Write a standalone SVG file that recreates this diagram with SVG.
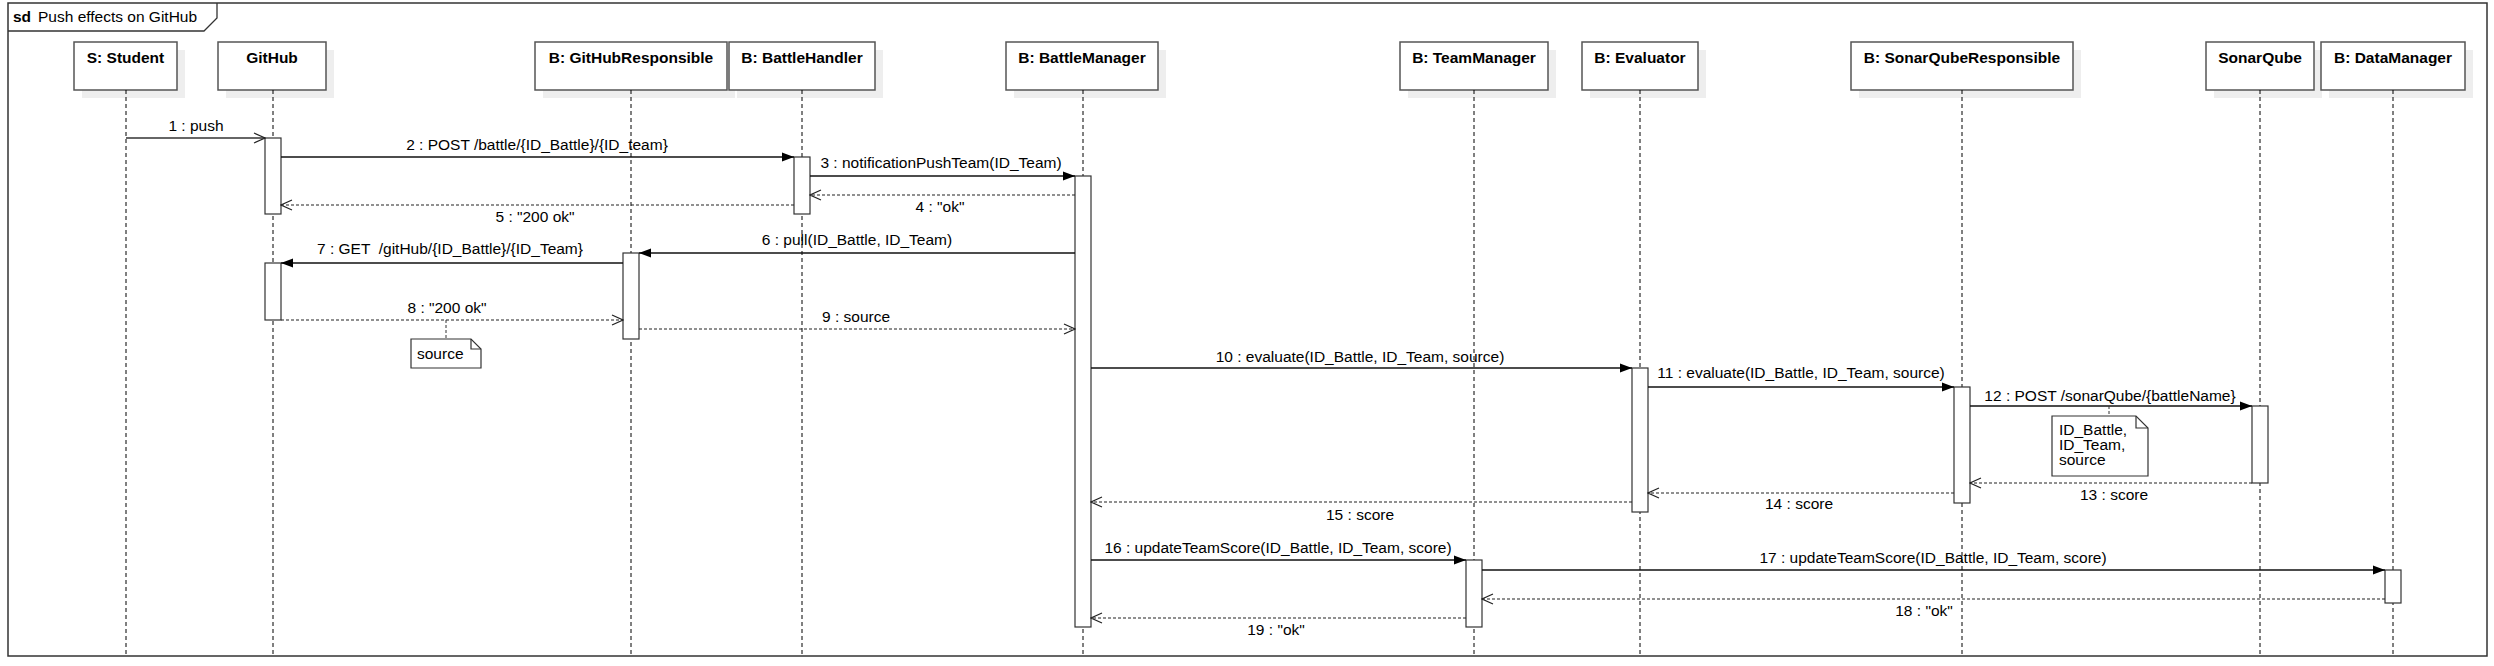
<svg xmlns="http://www.w3.org/2000/svg" width="2494" height="666" viewBox="0 0 2494 666">
<style>
text{font-family:"Liberation Sans",Arial,sans-serif;font-size:15.5px;fill:#000}
.hd{font-weight:bold;text-anchor:middle}
.lbl{text-anchor:middle}
.box{fill:#fff;stroke:#555;stroke-width:1.5}
.shadow{fill:#eeeeee;stroke:none}
.life{stroke:#000;stroke-width:1;stroke-dasharray:4,3;fill:none}
.act{fill:#fff;stroke:#333;stroke-width:1.2}
.call{stroke:#111;stroke-width:1.3;fill:none;marker-end:url(#filled)}
.async{stroke:#333;stroke-width:1.3;fill:none;marker-end:url(#open)}
.ret{stroke:#222;stroke-width:1.2;stroke-dasharray:3,2;fill:none;marker-end:url(#open)}
.note{fill:#fff;stroke:#333;stroke-width:1.2}
.nlink{stroke:#333;stroke-width:1;stroke-dasharray:3,2;fill:none}
</style>
<defs>
<marker id="filled" markerUnits="userSpaceOnUse" markerWidth="12" markerHeight="10" refX="12" refY="5" orient="auto"><path d="M0,0.5 L12,5 L0,9.5 z" fill="#000"/></marker>
<marker id="open" markerUnits="userSpaceOnUse" markerWidth="13" markerHeight="12" refX="12" refY="6" orient="auto"><path d="M1,1 L12,6 L1,11" fill="none" stroke="#222" stroke-width="1.2"/></marker>
</defs>
<rect x="0" y="0" width="2494" height="666" fill="#fff"/>
<g id="frame">
<rect x="8" y="3" width="2479" height="653" fill="none" stroke="#333" stroke-width="1.5"/>
<path d="M8,31 L204,31 L217,18 L217,3" fill="none" stroke="#333" stroke-width="1.3"/>
<text x="13" y="22" font-weight="bold">sd</text>
<text x="38" y="22">Push effects on GitHub</text>
</g>
<g id="student">
<rect class="shadow" x="82" y="50" width="103" height="48"/>
<rect class="box" x="74" y="42" width="103" height="48"/>
<text class="hd" x="125.5" y="63">S: Student</text>
<line class="life" x1="126" y1="90" x2="126" y2="656"/>
</g>
<g id="github">
<rect class="shadow" x="226" y="50" width="108" height="48"/>
<rect class="box" x="218" y="42" width="108" height="48"/>
<text class="hd" x="272" y="63">GitHub</text>
<line class="life" x1="273" y1="90" x2="273" y2="656"/>
<rect class="act" x="265" y="138" width="16" height="76"/>
<rect class="act" x="265" y="263" width="16" height="57"/>
</g>
<g id="githubresponsible">
<rect class="shadow" x="543" y="50" width="192" height="48"/>
<rect class="box" x="535" y="42" width="192" height="48"/>
<text class="hd" x="631" y="63">B: GitHubResponsible</text>
<line class="life" x1="631" y1="90" x2="631" y2="656"/>
<rect class="act" x="623" y="253" width="16" height="86"/>
</g>
<g id="battlehandler">
<rect class="shadow" x="737" y="50" width="146" height="48"/>
<rect class="box" x="729" y="42" width="146" height="48"/>
<text class="hd" x="802" y="63">B: BattleHandler</text>
<line class="life" x1="802" y1="90" x2="802" y2="656"/>
<rect class="act" x="794" y="157" width="16" height="57"/>
</g>
<g id="battlemanager">
<rect class="shadow" x="1014" y="50" width="152" height="48"/>
<rect class="box" x="1006" y="42" width="152" height="48"/>
<text class="hd" x="1082" y="63">B: BattleManager</text>
<line class="life" x1="1083" y1="90" x2="1083" y2="656"/>
<rect class="act" x="1075" y="176" width="16" height="451"/>
</g>
<g id="teammanager">
<rect class="shadow" x="1408" y="50" width="148" height="48"/>
<rect class="box" x="1400" y="42" width="148" height="48"/>
<text class="hd" x="1474" y="63">B: TeamManager</text>
<line class="life" x1="1474" y1="90" x2="1474" y2="656"/>
<rect class="act" x="1466" y="560" width="16" height="67"/>
</g>
<g id="evaluator">
<rect class="shadow" x="1590" y="50" width="116" height="48"/>
<rect class="box" x="1582" y="42" width="116" height="48"/>
<text class="hd" x="1640" y="63">B: Evaluator</text>
<line class="life" x1="1640" y1="90" x2="1640" y2="656"/>
<rect class="act" x="1632" y="368" width="16" height="144"/>
</g>
<g id="sonarquberesponsible">
<rect class="shadow" x="1859" y="50" width="222" height="48"/>
<rect class="box" x="1851" y="42" width="222" height="48"/>
<text class="hd" x="1962" y="63">B: SonarQubeResponsible</text>
<line class="life" x1="1962" y1="90" x2="1962" y2="656"/>
<rect class="act" x="1954" y="387" width="16" height="116"/>
</g>
<g id="sonarqube">
<rect class="shadow" x="2214" y="50" width="108" height="48"/>
<rect class="box" x="2206" y="42" width="108" height="48"/>
<text class="hd" x="2260" y="63">SonarQube</text>
<line class="life" x1="2260" y1="90" x2="2260" y2="656"/>
<rect class="act" x="2252" y="406" width="16" height="77"/>
</g>
<g id="datamanager">
<rect class="shadow" x="2329" y="50" width="144" height="48"/>
<rect class="box" x="2321" y="42" width="144" height="48"/>
<text class="hd" x="2393" y="63">B: DataManager</text>
<line class="life" x1="2393" y1="90" x2="2393" y2="656"/>
<rect class="act" x="2385" y="570" width="16" height="33"/>
</g>
<g id="connectors">
<line class="async" x1="126" y1="138" x2="265" y2="138"/>
<text class="lbl" x="196" y="131">1 : push</text>
<line class="call" x1="281" y1="157" x2="794" y2="157"/>
<text class="lbl" x="537" y="150">2 : POST /battle/{ID_Battle}/{ID_team}</text>
<line class="call" x1="810" y1="176" x2="1075" y2="176"/>
<text class="lbl" x="941" y="168">3 : notificationPushTeam(ID_Team)</text>
<line class="ret" x1="1075" y1="195" x2="810" y2="195"/>
<text class="lbl" x="940" y="212">4 : "ok"</text>
<line class="ret" x1="794" y1="205" x2="281" y2="205"/>
<text class="lbl" x="535" y="221.5">5 : "200 ok"</text>
<line class="call" x1="1075" y1="253" x2="639" y2="253"/>
<text class="lbl" x="857" y="245">6 : pull(ID_Battle, ID_Team)</text>
<line class="call" x1="623" y1="263" x2="281" y2="263"/>
<text class="lbl" x="450" y="254" xml:space="preserve">7 : GET  /gitHub/{ID_Battle}/{ID_Team}</text>
<line class="ret" x1="281" y1="320" x2="623" y2="320"/>
<text class="lbl" x="447" y="312.5">8 : "200 ok"</text>
<line class="ret" x1="639" y1="329" x2="1075" y2="329"/>
<text class="lbl" x="856" y="321.5">9 : source</text>
<line class="call" x1="1091" y1="368" x2="1632" y2="368"/>
<text class="lbl" x="1360" y="361.5">10 : evaluate(ID_Battle, ID_Team, source)</text>
<line class="call" x1="1648" y1="387" x2="1954" y2="387"/>
<text class="lbl" x="1801" y="378">11 : evaluate(ID_Battle, ID_Team, source)</text>
<line class="call" x1="1970" y1="406" x2="2252" y2="406"/>
<text class="lbl" x="2110" y="400.5">12 : POST /sonarQube/{battleName}</text>
<line class="ret" x1="2252" y1="483" x2="1970" y2="483"/>
<text class="lbl" x="2114" y="499.5">13 : score</text>
<line class="ret" x1="1954" y1="493" x2="1648" y2="493"/>
<text class="lbl" x="1799" y="508.5">14 : score</text>
<line class="ret" x1="1632" y1="502" x2="1091" y2="502"/>
<text class="lbl" x="1360" y="520">15 : score</text>
<line class="call" x1="1091" y1="560" x2="1466" y2="560"/>
<text class="lbl" x="1278" y="553">16 : updateTeamScore(ID_Battle, ID_Team, score)</text>
<line class="call" x1="1482" y1="570" x2="2385" y2="570"/>
<text class="lbl" x="1933" y="563">17 : updateTeamScore(ID_Battle, ID_Team, score)</text>
<line class="ret" x1="2385" y1="599" x2="1482" y2="599"/>
<text class="lbl" x="1924" y="616">18 : "ok"</text>
<line class="ret" x1="1466" y1="618" x2="1091" y2="618"/>
<text class="lbl" x="1276" y="635">19 : "ok"</text>
<line class="nlink" x1="446" y1="320" x2="446" y2="339"/>
<line class="nlink" x1="2109" y1="406" x2="2109" y2="416"/>
</g>
<g id="note-source">
<path class="note" d="M411,339 L471,339 L481,349 L481,368 L411,368 Z"/>
<path d="M471,339 L471,349 L481,349" fill="none" stroke="#333" stroke-width="1.2"/>
<text x="417" y="358.5">source</text>
</g>
<g id="note-params">
<path class="note" d="M2052,416 L2136,416 L2148,428 L2148,476 L2052,476 Z"/>
<path d="M2136,416 L2136,428 L2148,428" fill="none" stroke="#333" stroke-width="1.2"/>
<text x="2059" y="434.5">ID_Battle,</text>
<text x="2059" y="450">ID_Team,</text>
<text x="2059" y="465">source</text>
</g>
</svg>
